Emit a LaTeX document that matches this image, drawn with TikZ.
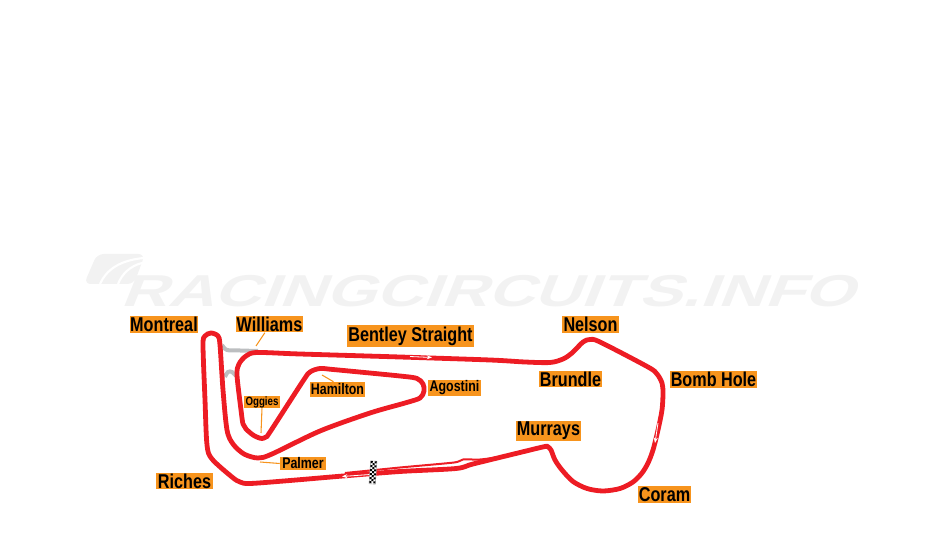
\documentclass[tikz,border=0pt]{standalone}
\usepackage{fontspec}
\setmainfont{Liberation Sans}
\newfontfamily\labelfont[FakeStretch=0.81]{Liberation Sans Bold}
\newfontfamily\markfont[FakeStretch=1.45,FakeSlant=0.4]{Liberation Sans Bold}
\usetikzlibrary{arrows.meta,positioning}
\definecolor{trackred}{RGB}{237,28,36}
\definecolor{linkgrey}{RGB}{188,190,192}
\definecolor{tagorange}{RGB}{247,148,29}
\definecolor{markgrey}{RGB}{242,242,242}
\tikzset{
  >={Stealth[length=4pt,width=3pt]},
  track/.style={draw=trackred,line width=3.6pt,line join=round},
  thinlane/.style={draw=trackred,line width=1.5pt},
  link/.style={draw=linkgrey,line width=3pt},
  flowmark/.style={->,draw=white,line width=0.6pt},
  corner/.style={fill=tagorange,text=black,inner sep=0pt,font=\labelfont\fontsize{#1}{#1}\selectfont},
  corner/.default=15,
  leader/.style={draw=tagorange,line width=0.8pt},
}
\begin{document}
\begin{tikzpicture}[x=0.75pt,y=-0.75pt]
  \useasboundingbox (0,0) rectangle (938,555);
  % watermark
  \fill[markgrey,rounded corners=5pt] (97,254) -- (145,254) -- (134,284) -- (84,284) -- cycle;
  \draw[white,line width=1.6pt] (100,284) .. controls (106,270) and (120,260) .. (144,258);
  \draw[white,line width=1.6pt] (118,284) .. controls (122,274) and (130,266) .. (142,263);
  \node[text=markgrey,inner sep=0pt,anchor=base west,font=\markfont\fontsize{33.5}{33.5}\selectfont] (mark) at (120,307) {RACINGCIRCUITS.INFO};
  % linking roads
  \draw[link] plot[smooth,tension=0.5] coordinates {(222,345) (227,350) (240,350.5) (258,351)};
  \draw[link] plot[smooth,tension=0.6] coordinates {(225,377) (228,372) (232,372) (236,376)};
  % pit lane
  \draw[thinlane] plot[smooth,tension=0.4] coordinates {(345,473) (400,467.5) (454,462.5) (463,459.5) (480,459.5) (500,457)};
  % circuit
  \draw[track] plot[smooth cycle,tension=0.5] coordinates {
    (237,375) (239,364) (246,356) (257,352.5) (300,354) (400,357) (490,360) (525,362) (550,362.5)
    (563,359) (572,353) (583,342) (590,339.5) (600,342) (648,367) (657,374) (662,383)
    (663,393) (662,410) (658,430) (653,450) (648,463) (642,473) (633,482) (620,488.5)
    (603,491) (587,488.5) (573,481.5) (562,470) (555,460) (551,450) (548,447) (545,446.5)
    (520,452.5) (473,464) (456,468.5) (400,471.5) (343,476) (290,480.5) (250,483.5) (240,482)
    (232,477) (212,459) (207,445) (205,400) (203,345)
    (205,336) (211,333) (218,336) (220,345) (223,390) (227,430) (233,444) (244,454)
    (258,458) (272,454) (320,431) (370,413) (405,403) (420,398) (424,391) (423,384) (417,378.5)
    (400,376) (333,369.5) (320,368.5) (310,372) (303,381) (270,432) (266,437) (262,438.5) (258,437.5)
    (253,435) (246,429) (243,424) (241,410)
  };
  % direction marks
  \draw[flowmark] (410,356.5) -- (432,357.5);
  \draw[flowmark] (658,423) -- (655,443);
  \draw[flowmark] (370,474.5) -- (342,476.5);
  % start line
  \begin{scope}[shift={(373,472.5)},rotate=-4]
    \fill[white,draw=black!45,line width=0.3pt] (-3.2,-11.5) rectangle (3.2,11.5);
    \foreach \r in {0,2,4,6,8,10}{
      \fill[black] (-3,{-11.3+2*\r}) rectangle (-1,{-9.3+2*\r});
      \fill[black] (1,{-11.3+2*\r}) rectangle (3,{-9.3+2*\r});
    }
    \foreach \r in {1,3,5,7,9}
      \fill[black] (-1,{-11.3+2*\r}) rectangle (1,{-9.3+2*\r});
  \end{scope}
  % corner names
  \node[corner,minimum width=68pt*0.75,minimum height=17pt*0.75] (montreal) at (164,324.5) {Montreal};
  \node[corner,minimum width=67pt*0.75,minimum height=16pt*0.75] (williams) at (269.5,324.5) {Williams};
  \node[corner,minimum width=127pt*0.75,minimum height=22pt*0.75] (bentley) at (410.5,336) {Bentley Straight};
  \node[corner,minimum width=57pt*0.75,minimum height=17pt*0.75] (nelson) at (590.5,324.5) {Nelson};
  \node[corner,minimum width=63pt*0.75,minimum height=16pt*0.75] (brundle) at (570.5,379) {Brundle};
  \node[corner,minimum width=87pt*0.75,minimum height=17pt*0.75] (bombhole) at (713.5,379.5) {Bomb Hole};
  \node[corner,minimum width=65pt*0.75,minimum height=20pt*0.75] (murrays) at (548.5,431) {Murrays};
  \node[corner,minimum width=53pt*0.75,minimum height=17pt*0.75] (coram) at (664.5,494.5) {Coram};
  \node[corner,minimum width=57pt*0.75,minimum height=16pt*0.75] (riches) at (184.5,481) {Riches};
  \node[corner=11.5,minimum width=46pt*0.75,minimum height=13pt*0.75] (palmer) at (303,463.5) {Palmer};
  \node[corner=11.5,minimum width=55pt*0.75,minimum height=15pt*0.75] (hamilton) at (337.5,389.5) {Hamilton};
  \node[corner=9,minimum width=36pt*0.75,minimum height=12pt*0.75] (oggies) at (262,402) {Oggies};
  \node[corner=11.5,minimum width=53pt*0.75,minimum height=16pt*0.75] (agostini) at (454.5,388) {Agostini};
  % pointers
  \coordinate (williamsend) at (256,346);
  \coordinate (hamiltonend) at (322,375);
  \coordinate (oggiesend) at (261,433);
  \coordinate (palmerend) at (260,462);
  \draw[leader] ([xshift=-3.5pt]williams.south) -- (williamsend);
  \draw[leader] ([xshift=-3pt]hamilton.north) -- (hamiltonend);
  \draw[leader] (oggies.south) -- (oggiesend);
  \draw[leader] (palmer.west) -- (palmerend);
\end{tikzpicture}
\end{document}
